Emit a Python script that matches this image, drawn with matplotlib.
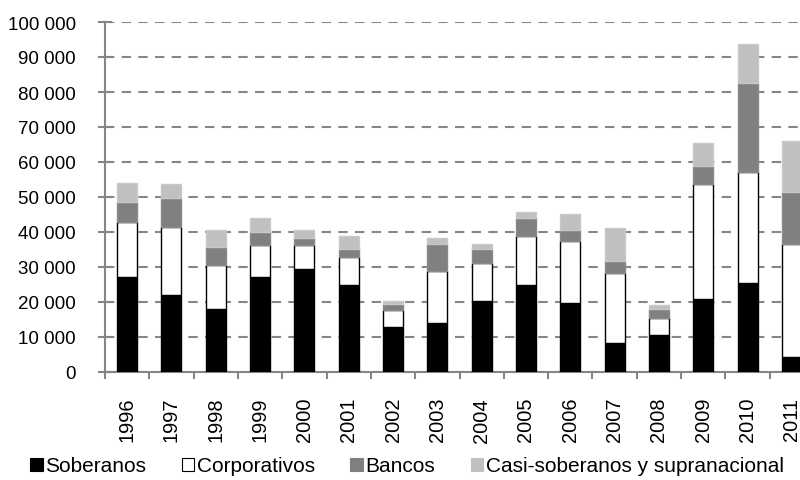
import numpy as np
import matplotlib
matplotlib.use("Agg")
import matplotlib.pyplot as plt
from matplotlib.patches import Patch
from matplotlib.ticker import FuncFormatter

plt.rcParams['font.family'] = ['Liberation Sans', 'DejaVu Sans']

years = ['1996', '1997', '1998', '1999', '2000', '2001', '2002', '2003',
         '2004', '2005', '2006', '2007', '2008', '2009', '2010', '2011']

# emisiones por tipo de emisor (millones)
soberanos = [27100, 22000, 18000, 27100, 29300, 24800, 12900, 14100,
             20300, 24800, 19700, 8400, 10700, 20800, 25300, 4400]
corporativos = [15900, 19300, 12500, 9100, 6900, 8000, 4700, 14700,
                10800, 14200, 17600, 19800, 4600, 32900, 31800, 32200]
bancos = [5600, 8500, 5100, 3900, 2200, 2300, 1800, 7900,
          4000, 5100, 3400, 3400, 2800, 5100, 25500, 14800]
casi_soberanos = [5500, 3800, 5000, 3900, 2200, 3800, 800, 1600,
                  1500, 1600, 4400, 9600, 1100, 6600, 11100, 14500]

series = [
    ('Soberanos', soberanos, '#000000', '#000000'),
    ('Corporativos', corporativos, '#ffffff', '#000000'),
    ('Bancos', bancos, '#808080', '#8a8a8a'),
    ('Casi-soberanos y supranacional', casi_soberanos, '#c0c0c0', '#c8c8c8'),
]

grey = '#868686'

fig = plt.figure(figsize=(8, 4.81), dpi=100)
ax = fig.add_axes([105 / 800, 1 - 373 / 481, 709 / 800, 350 / 481])

x = np.arange(len(years))
bottom = np.zeros(len(years))
for name, vals, fc, ec in series:
    vals = np.array(vals, dtype=float)
    ax.bar(x, vals, 0.45, bottom=bottom, color=fc, edgecolor=ec,
           linewidth=1.0, zorder=3)
    bottom += vals

ax.set_xlim(-0.5, len(years) - 0.5)
ax.set_ylim(0, 100000)
ax.set_yticks(np.arange(0, 100001, 10000))
ax.yaxis.set_major_formatter(FuncFormatter(lambda v, p: f"{int(v):,}".replace(',', ' ')))

# category boundaries get the tick marks, centers get the labels
ax.set_xticks(np.arange(-0.5, len(years), 1.0))
ax.set_xticklabels([])
ax.set_xticks(x, minor=True)
ax.set_xticklabels(years, minor=True, rotation=90, fontsize=14.4)
ax.tick_params(axis='x', which='major', direction='out', length=5, color=grey, width=1.5)
ax.tick_params(axis='x', which='minor', length=0, pad=18)
ax.tick_params(axis='y', direction='inout', length=10, color=grey, width=1.5,
               labelsize=13.5, pad=16)

ax.grid(axis='y', color=grey, linestyle=(0, (4.5, 3.5)), linewidth=1.5, zorder=0)
for side in ['top', 'right']:
    ax.spines[side].set_visible(False)
for side in ['left', 'bottom']:
    ax.spines[side].set_color(grey)
    ax.spines[side].set_linewidth(1.5)

handles = [Patch(facecolor=fc, edgecolor='#000000' if name == 'Corporativos' else fc,
                 linewidth=0.8, label=name)
           for name, vals, fc, ec in series]
fig.legend(handles=handles, loc='center', bbox_to_anchor=(407 / 800, 1 - 467 / 481),
           ncol=4, frameon=False, fontsize=15, handlelength=0.6,
           handleheight=0.6, handletextpad=0.12, columnspacing=1.7,
           borderaxespad=0)

fig.savefig('out.png', dpi=100)
